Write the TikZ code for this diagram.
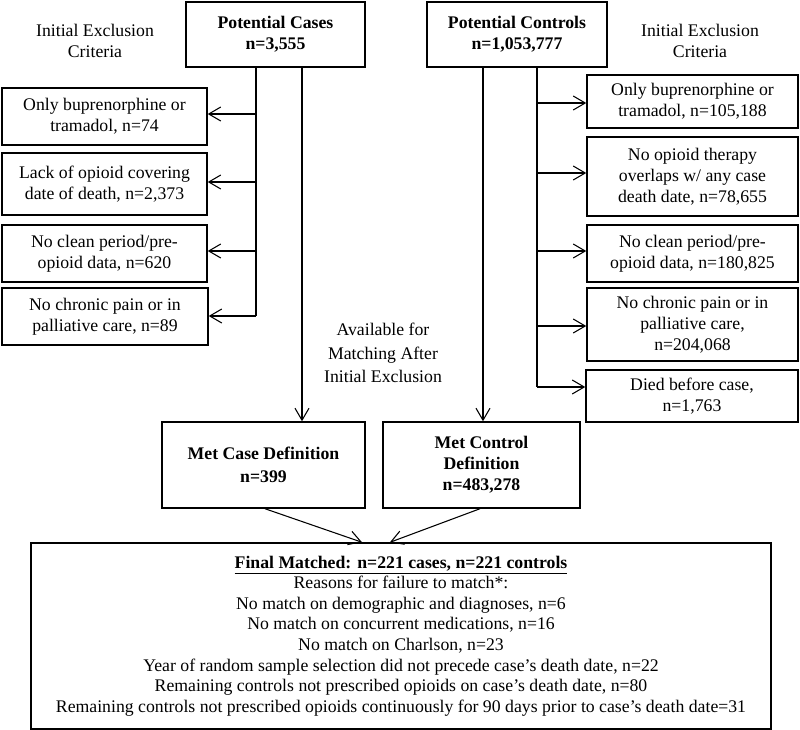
\documentclass[tikz,border=0pt]{standalone}
\usepackage{fontspec}
\setmainfont{Liberation Serif}
\usetikzlibrary{arrows.meta}
\begin{document}
\begin{tikzpicture}[x=0.75pt,y=-0.75pt,
  box/.style={draw, line width=1.1pt, inner sep=0pt, align=center, font=\fontsize{13.3}{15.6}\selectfont},
  lbl/.style={align=center, inner sep=0pt, font=\fontsize{13.3}{17.5}\selectfont},
  conn/.style={line width=0.8pt},
  arr/.style={line width=0.8pt, -{Straight Barb[length=9pt,width=10.5pt,line width=0.8pt]}}]
\useasboundingbox (0,0) rectangle (800,730);
% top boxes
\node[box, minimum width=179*0.75pt, minimum height=65*0.75pt] (pc) at (275.5,34.5) {\textbf{Potential Cases}\\\textbf{n=3,555}};
\node[box, minimum width=180*0.75pt, minimum height=65*0.75pt] (pk) at (517,34.5) {\textbf{Potential Controls}\\\textbf{n=1,053,777}};
\node[lbl, font=\fontsize{13.3}{16}\selectfont] (lt) at (95,41) {Initial Exclusion\\Criteria};
\node[lbl, font=\fontsize{13.3}{16}\selectfont] (rt) at (700,41) {Initial Exclusion\\Criteria};
% left exclusion boxes
\node[box, minimum width=205*0.75pt, minimum height=57*0.75pt] (L1) at (104.5,116.5) {Only buprenorphine or\\tramadol, n=74};
\node[box, minimum width=205*0.75pt, minimum height=62*0.75pt] (L2) at (104.5,184) {Lack of opioid covering\\date of death, n=2,373};
\node[box, minimum width=205*0.75pt, minimum height=57*0.75pt] (L3) at (104.5,253.5) {No clean period/pre-\\opioid data, n=620};
\node[box, minimum width=206*0.75pt, minimum height=57*0.75pt] (L4) at (105,316.5) {No chronic pain or in\\palliative care, n=89};
% right exclusion boxes
\node[box, minimum width=211*0.75pt, minimum height=53*0.75pt] (R1) at (692.5,101.5) {Only buprenorphine or\\tramadol, n=105,188};
\node[box, minimum width=211*0.75pt, minimum height=79*0.75pt] (R2) at (692.5,176.5) {No opioid therapy\\overlaps w/ any case\\death date, n=78,655};
\node[box, minimum width=211*0.75pt, minimum height=57*0.75pt] (R3) at (692.5,253.5) {No clean period/pre-\\opioid data, n=180,825};
\node[box, minimum width=211*0.75pt, minimum height=73*0.75pt] (R4) at (692.5,324.5) {No chronic pain or in\\palliative care,\\n=204,068};
\node[box, minimum width=212*0.75pt, minimum height=52*0.75pt] (R5) at (692,396) {Died before case,\\n=1,763};
% middle
\node[lbl] (avail) at (383,353) {Available for\\Matching After\\Initial Exclusion};
\node[box, minimum width=203*0.75pt, minimum height=86*0.75pt] (MC) at (263.5,465) {\textbf{Met Case Definition}\\[2pt]\textbf{n=399}};
\node[box, minimum width=197*0.75pt, minimum height=86*0.75pt] (MK) at (481.5,465) {\textbf{Met Control}\\\textbf{Definition}\\\textbf{n=483,278}};
% final
\node[box, minimum width=740*0.75pt, minimum height=186*0.75pt, font=\fontsize{13.3}{15.4}\selectfont] (F) at (401,636) {\underline{\textbf{Final Matched: n=221 cases, n=221 controls}}\\
Reasons for failure to match*:\\
No match on demographic and diagnoses, n=6\\
No match on concurrent medications, n=16\\
No match on Charlson, n=23\\
Year of random sample selection did not precede case’s death date, n=22\\
Remaining controls not prescribed opioids on case’s death date, n=80\\
Remaining controls not prescribed opioids continuously for 90 days prior to case’s death date=31};
% coordinates
\coordinate (lx) at (256,0);
\coordinate (cx) at (302,0);
\coordinate (kx) at (483,0);
\coordinate (rx) at (537,0);
\coordinate (l1) at (256,114);
\coordinate (l2) at (256,182);
\coordinate (l3) at (256,251);
\coordinate (l4) at (256,316);
\coordinate (r1) at (537,103);
\coordinate (r2) at (537,173);
\coordinate (r3) at (537,251);
\coordinate (r4) at (537,326);
\coordinate (r5) at (537,387);
\coordinate (mcs) at (265,0);
\coordinate (fa) at (362,0);
\coordinate (mks) at (480,0);
\coordinate (fb) at (390,0);
% left connectors
\draw[conn] (pc.south -| lx) -- (l4);
\draw[arr] (l1) -- (L1.east |- l1);
\draw[arr] (l2) -- (L2.east |- l2);
\draw[arr] (l3) -- (L3.east |- l3);
\draw[arr] (l4) -- (L4.east |- l4);
\draw[arr] (pc.south -| cx) -- (MC.north -| cx);
% right connectors
\draw[conn] (pk.south -| rx) -- (r5);
\draw[arr] (r1) -- (R1.west |- r1);
\draw[arr] (r2) -- (R2.west |- r2);
\draw[arr] (r3) -- (R3.west |- r3);
\draw[arr] (r4) -- (R4.west |- r4);
\draw[arr] (r5) -- (R5.west |- r5);
\draw[arr] (pk.south -| kx) -- (MK.north -| kx);
% bottom
\draw[arr] (MC.south -| mcs) -- (F.north -| fa);
\draw[arr] (MK.south -| mks) -- (F.north -| fb);
\end{tikzpicture}
\end{document}
